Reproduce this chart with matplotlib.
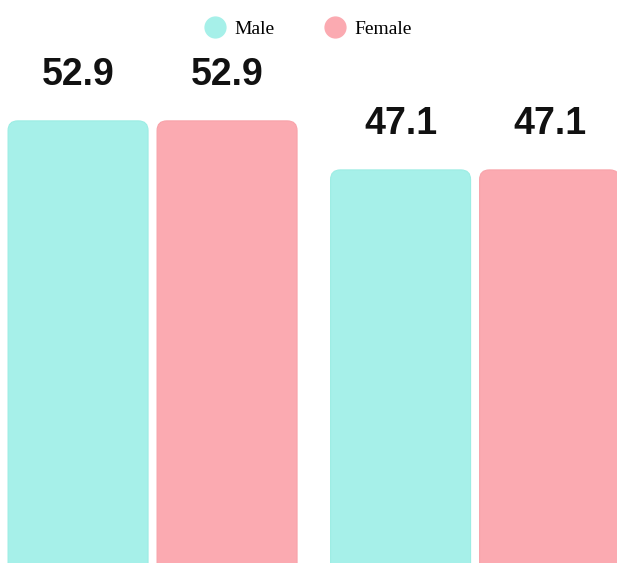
import numpy as np
import matplotlib.pyplot as plt
from matplotlib.patches import FancyBboxPatch
from matplotlib.lines import Line2D

# data
groups = ['Group 1', 'Group 2']
series = ['Male', 'Female']
male = [52.9, 47.1]
female = [52.9, 47.1]
colors = {'Male': '#A6F0E9', 'Female': '#FBAAB1'}
edges = {'Male': '#9CEDE4', 'Female': '#F8A3AA'}

fig = plt.figure(figsize=(6.17, 5.63), dpi=100)
ax = fig.add_axes([0, 0, 1, 1])
ax.set_xlim(-0.473, 1.44)
ax.set_ylim(0.6, 67.2)
ax.axis('off')

x = np.arange(len(groups))
offset = 0.231
width = 0.434

# aspect so that the rounded corners are circular on screen
fig.canvas.draw()
p0 = ax.transData.transform((0, 0))
p1 = ax.transData.transform((1, 1))
aspect = (p1[0] - p0[0]) / (p1[1] - p0[1])
r = 0.03

for name, vals, sign in [('Male', male, -1), ('Female', female, 1)]:
    for xi, v in zip(x, vals):
        xc = xi + sign * offset
        patch = FancyBboxPatch((xc - width / 2, -5), width, v + 5,
                               boxstyle=f'round,pad=0,rounding_size={r}',
                               mutation_aspect=aspect,
                               facecolor=colors[name], edgecolor=edges[name],
                               linewidth=0.8)
        ax.add_patch(patch)
        ax.annotate(f'{v}', (xc, v), xytext=(0, 20.3), textcoords='offset points',
                    ha='center', va='bottom', fontsize=27, fontweight='bold',
                    family='Liberation Sans', color='#111111')

handles = [Line2D([], [], marker='o', linestyle='none', markersize=15,
                  markerfacecolor=colors[s], markeredgecolor=colors[s]) for s in series]
fig.legend(handles, series, loc='upper center', bbox_to_anchor=(0.5, 1.0),
           ncol=2, frameon=False, prop={'family': 'Liberation Serif', 'size': 14},
           handletextpad=0.5, columnspacing=2.6, handlelength=1.0,
           borderaxespad=0.65)

fig.savefig('out.png', dpi=100)
